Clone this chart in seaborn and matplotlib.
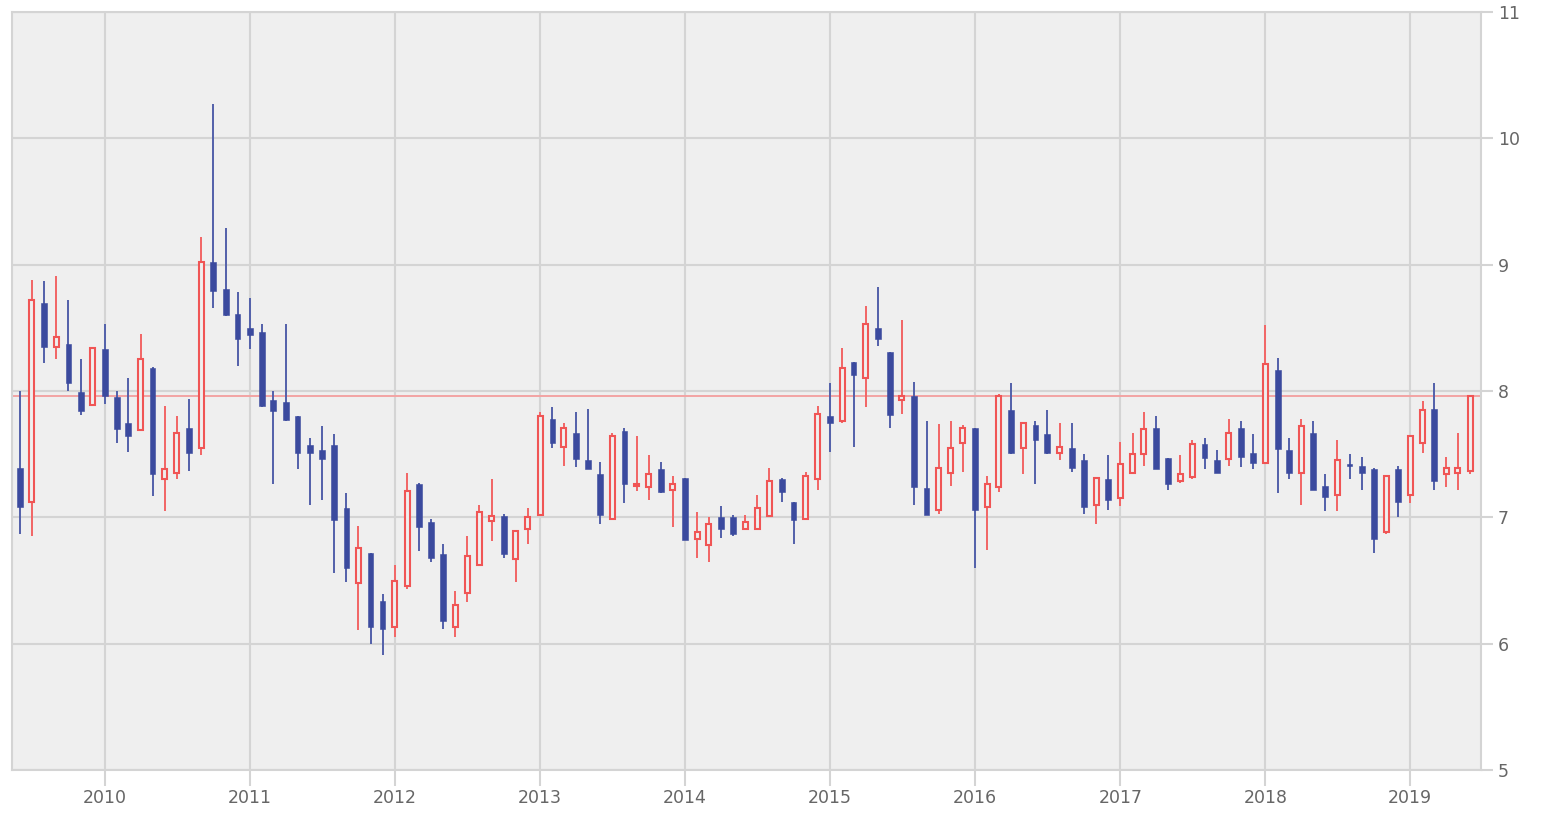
import numpy as np
import pandas as pd
import matplotlib
matplotlib.use("Agg")
import matplotlib.pyplot as plt
import matplotlib.dates as mdates
import seaborn as sns

# ---------------- data (monthly OHLC, Jun 2009 - Jun 2019) ----------------
start_month = "2009-06-01"
end_month = "2019-06-01"

opens = [
    7.39, 7.12, 8.70, 8.35, 8.37, 7.99, 7.89,
    8.33, 7.95, 7.75, 7.69, 8.18, 7.30, 7.35, 7.71, 7.55, 9.02, 8.81, 8.61,
    8.50, 8.47, 7.93, 7.91, 7.80, 7.57, 7.53, 7.57, 7.07, 6.48, 6.72, 6.34,
    6.13, 6.46, 7.26, 6.96, 6.71, 6.13, 6.40, 6.62, 6.97, 7.01, 6.67, 6.91,
    7.02, 7.78, 7.56, 7.67, 7.45, 7.34, 6.99, 7.68, 7.25, 7.24, 7.38, 7.22,
    7.31, 6.83, 6.78, 7.00, 7.00, 6.91, 6.91, 7.01, 7.30, 7.12, 6.99, 7.30,
    7.80, 7.76, 8.23, 8.10, 8.50, 8.31, 7.93, 7.96, 7.23, 7.06, 7.35, 7.59,
    7.71, 7.08, 7.24, 7.85, 7.55, 7.73, 7.66, 7.51, 7.55, 7.45, 7.10, 7.30,
    7.15, 7.35, 7.50, 7.71, 7.47, 7.29, 7.32, 7.58, 7.45, 7.46, 7.71, 7.51,
    7.43, 8.17, 7.53, 7.35, 7.67, 7.25, 7.18, 7.42, 7.41, 7.38, 6.88, 7.38,
    7.18, 7.59, 7.86, 7.34, 7.35, 7.37,
]
highs = [
    8.00, 8.88, 8.87, 8.91, 8.72, 8.25, 8.35,
    8.53, 8.00, 8.10, 8.45, 8.19, 7.88, 7.80, 7.94, 9.22, 10.27, 9.29, 8.78,
    8.74, 8.53, 8.00, 8.53, 7.80, 7.63, 7.72, 7.66, 7.19, 6.93, 6.72, 6.39,
    6.62, 7.35, 7.27, 6.99, 6.79, 6.42, 6.85, 7.10, 7.30, 7.03, 6.90, 7.07,
    7.83, 7.87, 7.75, 7.83, 7.86, 7.44, 7.67, 7.71, 7.64, 7.49, 7.44, 7.33,
    7.31, 7.04, 7.00, 7.09, 7.02, 7.02, 7.18, 7.39, 7.31, 7.12, 7.36, 7.88,
    8.06, 8.34, 8.23, 8.67, 8.82, 8.31, 8.56, 8.07, 7.76, 7.74, 7.76, 7.73,
    7.71, 7.33, 7.98, 8.06, 7.75, 7.76, 7.85, 7.75, 7.75, 7.50, 7.31, 7.49,
    7.60, 7.67, 7.83, 7.80, 7.47, 7.49, 7.61, 7.63, 7.53, 7.78, 7.76, 7.66,
    8.52, 8.26, 7.63, 7.78, 7.76, 7.34, 7.61, 7.50, 7.48, 7.39, 7.33, 7.41,
    7.65, 7.92, 8.06, 7.48, 7.67, 7.96,
]
lows = [
    6.87, 6.85, 8.22, 8.25, 8.00, 7.81, 7.88,
    7.90, 7.59, 7.52, 7.68, 7.17, 7.05, 7.30, 7.37, 7.49, 8.66, 8.59, 8.20,
    8.33, 7.87, 7.26, 7.76, 7.38, 7.10, 7.14, 6.56, 6.49, 6.11, 6.00, 5.91,
    6.05, 6.43, 6.73, 6.65, 6.12, 6.05, 6.33, 6.62, 6.81, 6.68, 6.49, 6.79,
    7.01, 7.55, 7.41, 7.40, 7.38, 6.95, 6.98, 7.11, 7.21, 7.14, 7.19, 6.92,
    6.82, 6.68, 6.65, 6.84, 6.85, 6.90, 6.90, 7.00, 7.12, 6.79, 6.98, 7.22,
    7.52, 7.75, 7.56, 7.87, 8.36, 7.71, 7.82, 7.10, 7.02, 7.03, 7.25, 7.36,
    6.60, 6.74, 7.20, 7.50, 7.34, 7.26, 7.50, 7.45, 7.36, 7.03, 6.95, 7.06,
    7.09, 7.35, 7.41, 7.38, 7.22, 7.27, 7.30, 7.38, 7.35, 7.41, 7.40, 7.38,
    7.42, 7.19, 7.30, 7.10, 7.22, 7.05, 7.05, 7.30, 7.22, 6.72, 6.87, 7.00,
    7.11, 7.51, 7.22, 7.24, 7.22, 7.34,
]
closes = [
    7.08, 8.72, 8.35, 8.43, 8.06, 7.84, 8.34,
    7.96, 7.70, 7.64, 8.25, 7.34, 7.38, 7.67, 7.51, 9.02, 8.79, 8.60, 8.41,
    8.44, 7.88, 7.84, 7.77, 7.51, 7.51, 7.46, 6.98, 6.60, 6.76, 6.13, 6.12,
    6.50, 7.21, 6.92, 6.68, 6.18, 6.31, 6.69, 7.04, 7.01, 6.71, 6.89, 7.00,
    7.80, 7.59, 7.71, 7.46, 7.38, 7.02, 7.64, 7.26, 7.26, 7.34, 7.20, 7.26,
    6.82, 6.88, 6.95, 6.91, 6.87, 6.96, 7.07, 7.29, 7.20, 6.98, 7.33, 7.82,
    7.75, 8.18, 8.13, 8.53, 8.41, 7.81, 7.96, 7.24, 7.02, 7.39, 7.55, 7.71,
    7.06, 7.26, 7.96, 7.51, 7.75, 7.61, 7.51, 7.56, 7.39, 7.08, 7.31, 7.14,
    7.42, 7.50, 7.70, 7.38, 7.26, 7.34, 7.58, 7.47, 7.35, 7.67, 7.48, 7.43,
    8.21, 7.54, 7.35, 7.72, 7.22, 7.16, 7.45, 7.41, 7.35, 6.83, 7.33, 7.12,
    7.64, 7.85, 7.29, 7.39, 7.39, 7.96,
]
last_price = 7.96
year_ticks = list(range(2010, 2020))
y_ticks = [5, 6, 7, 8, 9, 10, 11]

# ---------------- style ----------------
sns.set_theme(style="whitegrid")
plt.rcParams["font.family"] = ["DejaVu Sans"]

BG = "#efefef"
GRID = "#d4d4d4"
UP = "#f05555"
UP_WICK = "#f26565"
DOWN = "#3b4a9e"
DOWN_WICK = "#5260aa"
TXT = "#666666"

df = pd.DataFrame({
    "date": pd.date_range(start_month, end_month, freq="MS"),
    "open": opens, "high": highs, "low": lows, "close": closes,
})
df["x"] = mdates.date2num(df["date"])
df["up"] = df["close"] >= df["open"]

fig = plt.figure(figsize=(15.46, 8.24), dpi=100)
fig.patch.set_facecolor("white")
ax = fig.add_axes([12 / 1546, 54 / 824, 1469 / 1546, 758 / 824])
ax.set_facecolor(BG)

# wicks
up = df[df["up"]]
dn = df[~df["up"]]
ax.vlines(up["x"], up["low"], up["high"], color=UP_WICK, lw=1.4, zorder=3)
ax.vlines(dn["x"], dn["low"], dn["high"], color=DOWN_WICK, lw=1.4, zorder=3)

# bodies
ax.bar(dn["x"], (dn["open"] - dn["close"]).clip(lower=0.012), bottom=dn["close"],
       width=14.5, color=DOWN, edgecolor=DOWN, lw=0.4, zorder=4)
ax.bar(up["x"], (up["close"] - up["open"]).clip(lower=0.012), bottom=up["open"],
       width=12.5, facecolor=BG, edgecolor=UP, lw=1.5, zorder=4)

# last price line
ax.axhline(last_price, color="#f3a3a3", lw=1.4, zorder=2.5)

# axes
ax.set_ylim(5, 11)
ax.set_xlim(mdates.date2num(pd.Timestamp("2009-05-12")),
            mdates.date2num(pd.Timestamp("2019-06-28")))
ax.set_yticks(y_ticks)
ax.set_yticklabels([str(v) for v in y_ticks])
ax.yaxis.tick_right()
xt = [mdates.date2num(pd.Timestamp(f"{y}-01-01")) for y in year_ticks]
ax.set_xticks(xt)
ax.set_xticklabels([str(y) for y in year_ticks])

ax.grid(True, color=GRID, lw=1.5, zorder=1)
ax.set_axisbelow(True)
for s in ax.spines.values():
    s.set_visible(True)
    s.set_color(GRID)
    s.set_linewidth(1.5)

ax.tick_params(axis="x", which="both", bottom=True, length=11.5, width=1.5,
               color=GRID, labelcolor=TXT, labelsize=12.5, pad=2)
ax.tick_params(axis="y", which="both", right=True, left=False, length=8.5,
               width=1.5, color=GRID, labelcolor=TXT, labelsize=12.5, pad=3.5)
ax.set_xlabel("")
ax.set_ylabel("")

fig.savefig("out.png", dpi=100, facecolor="white")
